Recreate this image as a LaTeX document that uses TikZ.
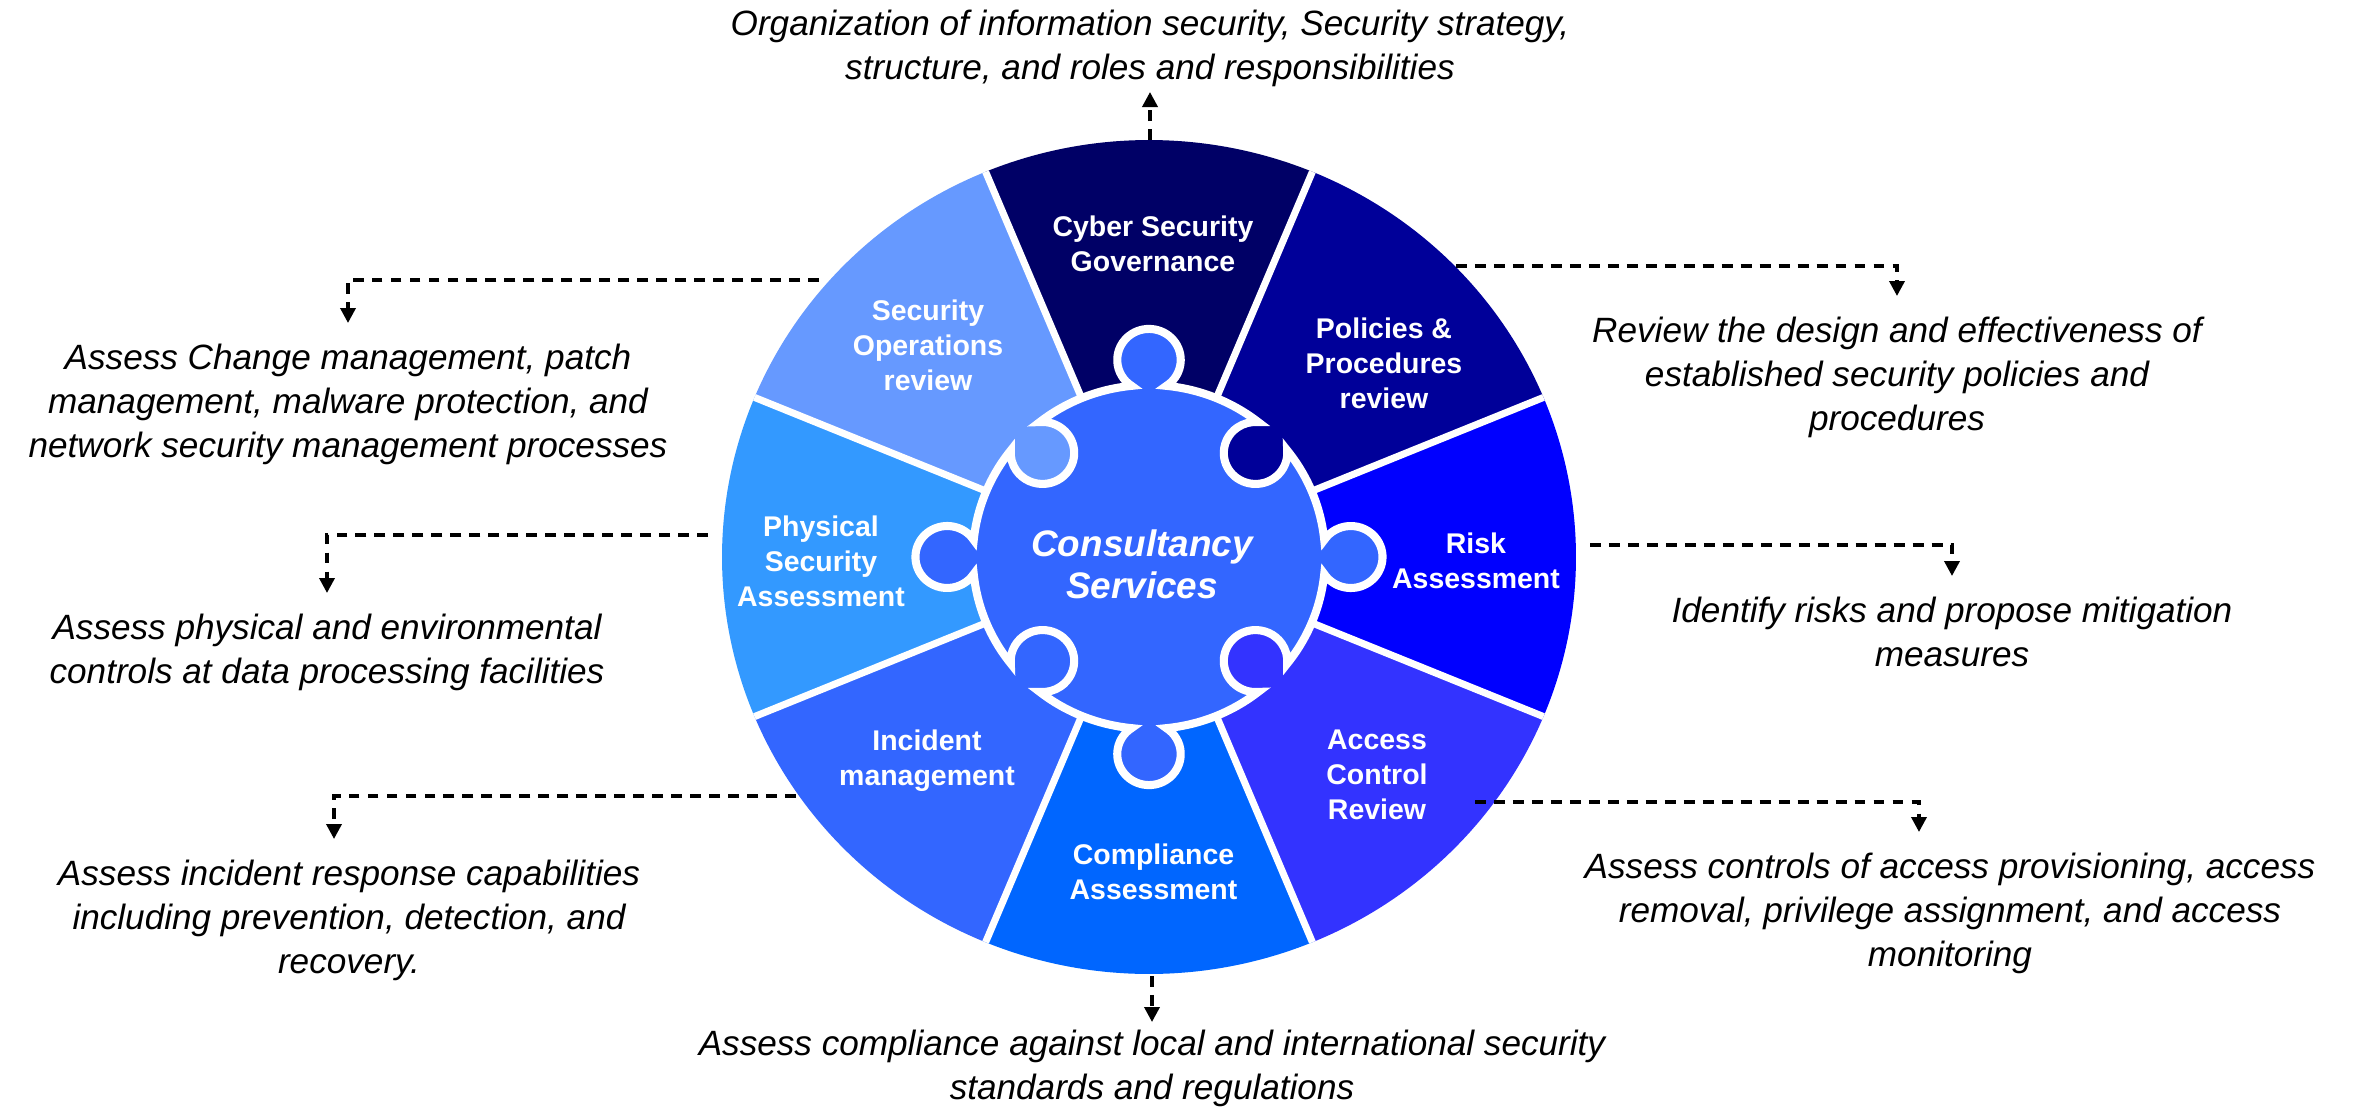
\documentclass[tikz,border=0pt]{standalone}
\usepackage{fontspec}
\setmainfont{Liberation Sans}
\usepackage{tikz}
\usetikzlibrary{arrows.meta}
\definecolor{csgBlue}{HTML}{000066}
\definecolor{pprBlue}{HTML}{000099}
\definecolor{raBlue}{HTML}{0000FF}
\definecolor{acrBlue}{HTML}{3333FF}
\definecolor{caBlue}{HTML}{0066FF}
\definecolor{imBlue}{HTML}{3366FF}
\definecolor{psaBlue}{HTML}{3399FF}
\definecolor{sopBlue}{HTML}{6699FF}
\definecolor{hubBlue}{HTML}{3366FF}

\begin{document}
\begin{tikzpicture}[
  desc/.style={align=center, inner ysep=0.2cm, font=\itshape\fontsize{10}{12.5}\selectfont},
  seg/.style={align=center, text=white, inner sep=0pt, font=\bfseries\fontsize{8.1}{10}\selectfont},
  link/.style={line width=1pt, dash pattern=on 3.1pt off 2.3pt, -{Triangle[length=0.15cm,width=0.15cm]}},
  sep/.style={white, line width=2pt},
  hub/.style={fill=hubBlue, draw=white, line width=2.3pt}]
  \useasboundingbox (0,0) rectangle (23.66,11.07);

  \begin{scope}[shift={(11.49,5.50)}, xscale=1.024]
    \foreach \a/\c in {67.5/csgBlue, 22.5/pprBlue, -22.5/raBlue, -67.5/acrBlue,
                       -112.5/caBlue, -157.5/imBlue, 157.5/psaBlue, 112.5/sopBlue}
      \fill[\c] (0,0) -- (\a:4.17) arc[start angle=\a, end angle=\a+45, radius=4.17] -- cycle;
    \foreach \a in {22.5,67.5,...,337.5}
      \draw[sep] (0,0) -- (\a:4.17);
    \draw[hub] (-5.672:1.72)
      \foreach \t in {0,90,180,270}{
        arc[start angle=\t-146.74, end angle=\t+146.74, radius=0.31]
        arc[start angle=\t+5.672, end angle=\t+38.323, radius=1.72]
        arc[start angle=\t+4.82, end angle=\t-274.82, radius=0.31]
        arc[start angle=\t+51.677, end angle=\t+84.328, radius=1.72]
      } -- cycle;
  \end{scope}

  \node[seg] (CSG) at (11.53,8.63) {Cyber Security\\Governance};
  \node[seg] (PPR) at (13.84,7.44) {Policies \&\\Procedures\\review};
  \node[seg] (RA) at (14.76,5.46) {Risk\\Assessment};
  \node[seg] (ACR) at (13.77,3.32) {Access\\Control\\Review};
  \node[seg] (CA) at (11.535,2.35) {Compliance\\Assessment};
  \node[seg] (IM) at (9.27,3.46) {Incident\\management};
  \node[seg] (PSA) at (8.21,5.46) {Physical\\Security\\Assessment};
  \node[seg] (SOP) at (9.28,7.62) {Security\\Operations\\review};
  \node[align=center, text=white, font=\bfseries\itshape\fontsize{10.5}{11.9}\selectfont] (CS) at (11.42,5.43) {Consultancy\\Services};

  \node[desc, anchor=south, inner ysep=0.05cm] (CSGt) at (11.50,10.15) {Organization of information security, Security strategy,\\structure, and roles and responsibilities};
  \node[desc, anchor=north] (SOPt) at (3.48,7.84) {Assess Change management, patch\\management, malware protection, and\\network security management processes};
  \node[desc, anchor=north] (PSAt) at (3.27,5.14) {Assess physical and environmental\\controls at data processing facilities};
  \node[desc, anchor=north] (IMt) at (3.49,2.68) {Assess incident response capabilities\\including prevention, detection, and\\recovery.};
  \node[desc, anchor=north, inner ysep=0.075cm] (CAt) at (11.52,0.85) {Assess compliance against local and international security\\standards and regulations};
  \node[desc, anchor=north] (PPRt) at (18.97,8.11) {Review the design and effectiveness of\\established security policies and\\procedures};
  \node[desc, anchor=north] (RAt) at (19.52,5.31) {Identify risks and propose mitigation\\measures};
  \node[desc, anchor=north] (ACRt) at (19.50,2.75) {Assess controls of access provisioning, access\\removal, privilege assignment, and access\\monitoring};

  \coordinate (CSGs) at (11.50,9.67);
  \coordinate (SOPs) at (8.19,8.27);
  \coordinate (PSAs) at (7.08,5.72);
  \coordinate (IMs) at (7.96,3.11);
  \coordinate (CAs) at (11.52,1.31);
  \coordinate (PPRs) at (14.56,8.41);
  \coordinate (RAs) at (15.90,5.62);
  \coordinate (ACRs) at (14.75,3.05);

  \draw[link] (CSGs) -- (CSGt.south);
  \draw[link] (SOPs) -| (SOPt.north);
  \draw[link] (PSAs) -| (PSAt.north);
  \draw[link] (IMs) -| ([xshift=-0.15cm]IMt.north);
  \draw[link] (CAs) -- (CAt.north);
  \draw[link] (PPRs) -| (PPRt.north);
  \draw[link] (RAs) -| (RAt.north);
  \draw[link] (ACRs) -| ([xshift=-0.31cm]ACRt.north);
\end{tikzpicture}
\end{document}
